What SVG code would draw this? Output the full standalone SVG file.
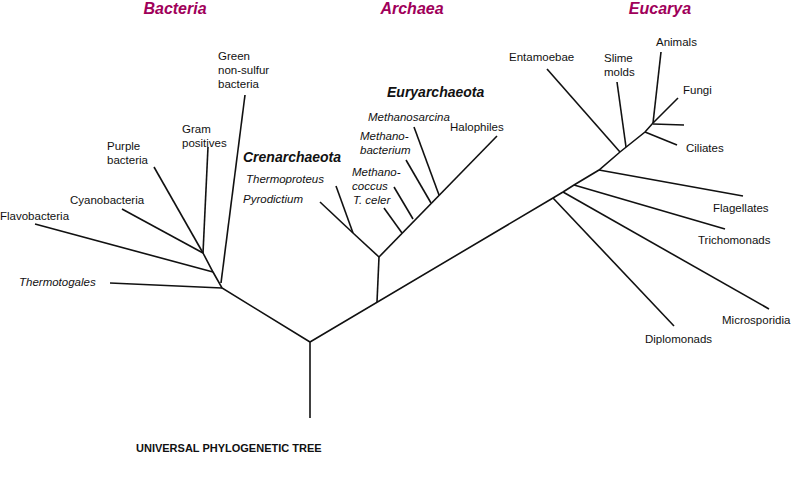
<svg xmlns="http://www.w3.org/2000/svg" width="800" height="481" viewBox="0 0 800 481">
<style>
text{font-family:"Liberation Sans",Arial,sans-serif;font-size:11.5px;fill:#111}
.i{font-style:italic}
.h{font-weight:bold;font-style:italic;font-size:14px}
.d{font-weight:bold;font-style:italic;font-size:16px;fill:#a0005a}
#edges line,#edges polyline{stroke:#111;stroke-width:1.6;fill:none}
</style>
<rect width="800" height="481" fill="#fff"/>
<g id="edges">
<line x1="310" y1="418" x2="310" y2="342"/>
<polyline points="310,342 222,288 213,272 203,253"/>
<line x1="110" y1="283" x2="222" y2="288"/>
<line x1="35" y1="224" x2="213" y2="272"/>
<line x1="245" y1="95" x2="221" y2="283"/>
<line x1="208" y1="147" x2="203" y2="253"/>
<line x1="154" y1="167" x2="203" y2="253"/>
<line x1="122" y1="209" x2="203" y2="253"/>
<polyline points="310,342 553,198 563,192 574,185 599,170 620,152 645,132 653,123"/>
<line x1="377" y1="302" x2="379" y2="257"/>
<line x1="379" y1="257" x2="353" y2="233"/>
<line x1="320" y1="202" x2="353" y2="233"/>
<line x1="336" y1="186" x2="353" y2="233"/>
<line x1="379" y1="257" x2="497" y2="136"/>
<line x1="384" y1="208" x2="402" y2="233"/>
<line x1="394" y1="187" x2="413" y2="219"/>
<line x1="406" y1="160" x2="431" y2="203"/>
<line x1="414" y1="127" x2="439" y2="195"/>
<line x1="553" y1="198" x2="674" y2="326"/>
<line x1="563" y1="192" x2="769" y2="309"/>
<line x1="574" y1="185" x2="725" y2="229"/>
<line x1="599" y1="170" x2="743" y2="196"/>
<line x1="547" y1="69" x2="620" y2="152"/>
<line x1="617" y1="82" x2="626" y2="147"/>
<line x1="645" y1="132" x2="677" y2="145"/>
<line x1="661" y1="52" x2="653" y2="123"/>
<line x1="653" y1="124" x2="684" y2="125"/>
<line x1="653" y1="123" x2="678" y2="98"/>
</g>
<g id="titles">
<text class="d" x="175" y="14" text-anchor="middle">Bacteria</text>
<text class="d" x="412" y="14" text-anchor="middle">Archaea</text>
<text class="d" x="660" y="14" text-anchor="middle">Eucarya</text>
</g>
<g id="bacteria">
<text x="218" y="60">Green</text><text x="218" y="74">non-sulfur</text><text x="218" y="88">bacteria</text>
<text x="182" y="133">Gram</text><text x="182" y="147">positives</text>
<text x="107" y="150">Purple</text><text x="107" y="164">bacteria</text>
<text x="70" y="204">Cyanobacteria</text>
<text x="0" y="220">Flavobacteria</text>
<text class="i" x="19" y="286">Thermotogales</text>
</g>
<g id="archaea">
<text class="h" x="243" y="162">Crenarchaeota</text>
<text class="i" x="246" y="183">Thermoproteus</text>
<text class="i" x="243" y="203">Pyrodictium</text>
<text class="h" x="387" y="97">Euryarchaeota</text>
<text class="i" x="368" y="121">Methanosarcina</text>
<text class="i" x="360" y="140">Methano-</text><text class="i" x="360" y="154">bacterium</text>
<text class="i" x="352" y="176">Methano-</text><text class="i" x="352" y="190">coccus</text>
<text class="i" x="353" y="204">T. celer</text>
<text x="450" y="131">Halophiles</text>
</g>
<g id="eucarya">
<text x="509" y="61">Entamoebae</text>
<text x="604" y="62">Slime</text><text x="604" y="76">molds</text>
<text x="656" y="46">Animals</text>
<text x="683" y="94">Fungi</text>
<text x="686" y="152">Ciliates</text>
<text x="713" y="212">Flagellates</text>
<text x="698" y="244">Trichomonads</text>
<text x="722" y="324">Microsporidia</text>
<text x="645" y="343">Diplomonads</text>
</g>
<text x="136" y="452" style="font-weight:bold;font-size:11px">UNIVERSAL PHYLOGENETIC TREE</text>
</svg>
